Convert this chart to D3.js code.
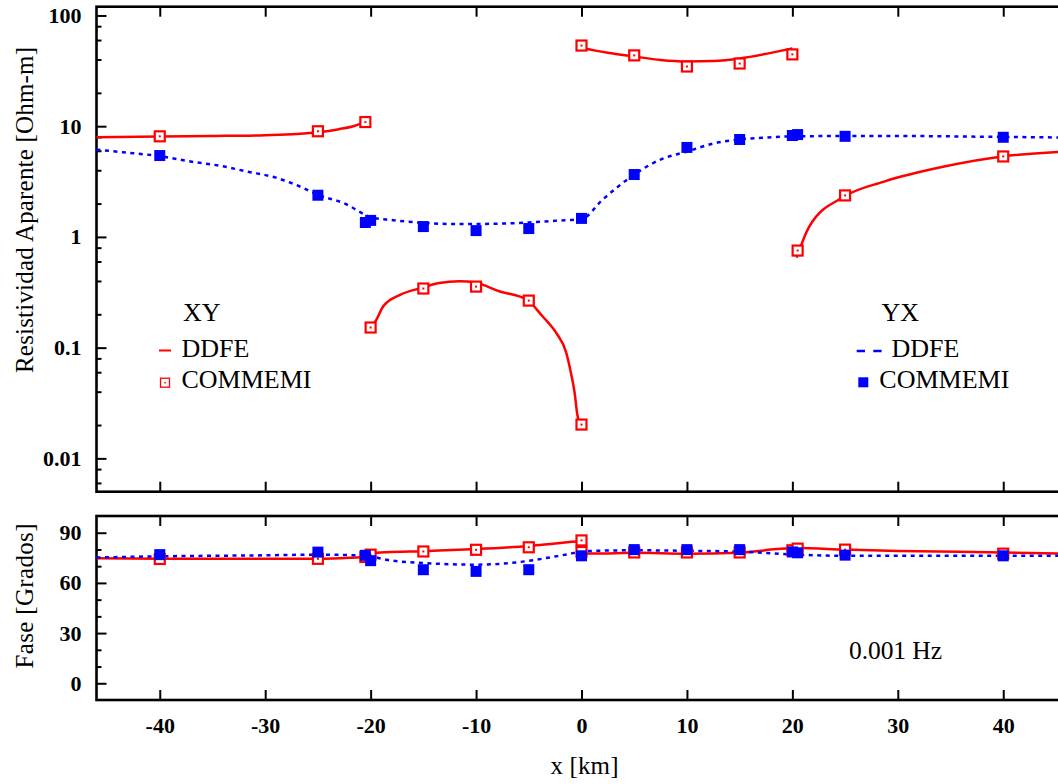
<!DOCTYPE html>
<html>
<head>
<meta charset="utf-8">
<script src="https://cdn.jsdelivr.net/npm/d3@7"></script>
<style>
body{margin:0;background:#fff;}
svg text{font-family:"Liberation Serif","Times New Roman",serif;fill:#000;}
</style>
</head>
<body>
<svg id="chart"></svg>
<script>
// tick values
let xTicks = [-40,-30,-20,-10,0,10,20,30,40];
let xTickLabels = ["-40","-30","-20","-10","0","10","20","30","40"];
let rhoTicks = [0.01,0.1,1,10,100];
let rhoTickLabels = ["0.01","0.1","1","10","100"];
let rhoMinorTicks = [0.006,0.008,0.02,0.04,0.06,0.08,0.2,0.4,0.6,0.8,2,4,6,8,20,40,60,80];
let phaseTicks = [0,30,60,90];
let phaseTickLabels = ["0","30","60","90"];
let phaseMinorTicks = [10,20,40,50,70,80];

// XY, DDFE resistivity (four pieces, [x km, ohm-m])
let xyRhoDdfeA = [[-46,7.95],[-40,8.05],[-35,8.15],[-30,8.3],[-27,8.5],[-25,8.8],[-23,9.4],[-21.5,10.1],[-20.6,10.9]];
let xyRhoDdfeB = [[-20,0.155],[-19.6,0.17],[-18.8,0.236],[-17.2,0.30],[-15.2,0.346],[-13.5,0.384],[-11.6,0.397],[-10,0.385],[-7.8,0.323],[-5.2,0.272],[-3.7,0.192],[-2.4,0.136],[-1.45,0.09],[-1.0,0.059],[-0.65,0.039],[-0.4,0.025],[-0.15,0.02]];
let xyRhoDdfeC = [[0,51],[2.5,46],[5,42.6],[7.5,39.6],[10,38.4],[12.5,38.8],[15,40.9],[17.5,45],[20,50.5]];
let xyRhoDdfeD = [[20.4,0.65],[21.6,1.24],[24.9,2.31],[28.7,3.16],[34.4,4.32],[39.9,5.32],[46,5.9]];
// YX, DDFE resistivity
let yxRhoDdfe = [[-46,6.15],[-43.5,5.82],[-40,5.36],[-37.2,4.82],[-34,4.34],[-31.8,3.91],[-28.9,3.41],[-26.4,2.77],[-25,2.4],[-22.6,2.03],[-19.8,1.49],[-18,1.42],[-15,1.34],[-12.5,1.31],[-10,1.31],[-7.5,1.32],[-5,1.35],[-2.5,1.4],[0,1.45],[2,2.17],[5,3.66],[7.5,5.0],[10,5.9],[12.5,6.97],[15,7.6],[17.5,7.9],[20,8.1],[25,8.15],[30,8.15],[40,8.0],[46,7.9]];

// COMMEMI stations
let xyStations = [-40,-25,-20.5,-20,-15,-10,-5,0,0,5,10,15,20,20.5,25,40];
let yxStations = [-40,-25,-20.5,-20,-15,-10,-5,0,5,10,15,20,20.5,25,40];
let xyRhoCommemi = [8.1,9.0,10.9,0.152,0.342,0.356,0.266,0.0202,53.5,43.6,34.6,36.8,44.5,0.753,2.37,5.33];
let yxRhoCommemi = [5.43,2.38,1.35,1.41,1.24,1.14,1.19,1.47,3.66,6.43,7.58,8.24,8.4,8.1,7.94];
let xyPhaseCommemi = [74.3,74.4,75.5,76.9,78.8,79.8,81.3,85.4,78.5,78.2,78.2,78.2,79.5,80.5,79.9,77.5];
let yxPhaseCommemi = [76.9,78.4,76.5,73.3,67.9,66.9,67.9,76.2,79.9,79.9,79.9,78.5,78,76.6,76.2];

// DDFE phase
let xyPhaseDdfe = [[-46,74.8],[-40,74.5],[-30,74.4],[-25,74.4],[-22,75],[-21,75.4],[-20,77.5],[-18.5,78.4],[-15,79],[-10,80.2],[-6.5,81.4],[-4.9,82.1],[-2.5,83.6],[-0.3,84.8],[0,84.8],[0.3,77.5],[2,77.6],[5,78],[10,77.5],[15,78],[18.5,80.2],[20.5,80.9],[25,79.9],[30,79.1],[40,78.2],[46,77.5]];
let yxPhaseDdfe = [[-46,75.2],[-40,75.9],[-30,76.5],[-25,76.9],[-21,76.4],[-20,75.9],[-18.5,73.8],[-15,71.9],[-12.5,71.2],[-10,70.9],[-7.5,71.5],[-5,73.2],[-2.5,75.8],[-0.8,77.8],[0,78.9],[5,79.5],[10,79.2],[15,78.7],[20,77],[25,76.2],[30,76.2],[40,76.2],[46,76.2]];

let width = 1058, height = 784,
    left = 96.5, right = 1066.5,
    red = "#ff0000", blue = "#0000ff",
    svg = d3.select("#chart").attr("width",width).attr("height",height);

let xScale = d3.scaleLinear([-46,46],[left,right]),
    rhoScale = d3.scaleLog([0.005,120],[491.7,6.7]),
    phaseScale = d3.scaleLinear([-10,100],[700,516]);

function styleAxis(g){
    g.attr("font-family",null).attr("font-size",null);
    g.select(".domain").remove();
    g.selectAll(".tick line").attr("stroke","#000").attr("stroke-width",2);
    g.selectAll(".tick text").attr("font-weight","bold").attr("font-size",22);
}

function drawPanel(yScale,top,bottom,majors,labels,minors){
    svg.append("g").attr("transform","translate("+left+",0)")
        .call(d3.axisLeft(yScale).tickValues(majors).tickFormat(function(d,i){return labels[i];}).tickSize(-10).tickPadding(15))
        .call(styleAxis);
    svg.append("g").attr("transform","translate("+left+",0)")
        .call(d3.axisLeft(yScale).tickValues(minors).tickFormat("").tickSize(-5))
        .call(styleAxis);
    svg.append("g").attr("transform","translate(0,"+top+")")
        .call(d3.axisTop(xScale).tickValues(xTicks).tickFormat("").tickSize(-10))
        .call(styleAxis);
    return svg.append("g").attr("transform","translate(0,"+bottom+")")
        .call(d3.axisBottom(xScale).tickValues(xTicks).tickFormat(function(d,i){return xTickLabels[i];}).tickSize(-10).tickPadding(17.7))
        .call(styleAxis);
}

// panels frames and axes
drawPanel(rhoScale,6.7,491.7,rhoTicks,rhoTickLabels,rhoMinorTicks)
    .selectAll(".tick text").remove();
drawPanel(phaseScale,516,700,phaseTicks,phaseTickLabels,phaseMinorTicks);

svg.append("rect").attr("x",left).attr("y",6.7).attr("width",right-left+20).attr("height",491.7-6.7)
    .attr("fill","none").attr("stroke","#000").attr("stroke-width",2.6);
svg.append("rect").attr("x",left).attr("y",516).attr("width",right-left+20).attr("height",700-516)
    .attr("fill","none").attr("stroke","#000").attr("stroke-width",2.6);

// lines
let rhoLine = d3.line().x(function(d){return xScale(d[0]);}).y(function(d){return rhoScale(d[1]);}).curve(d3.curveMonotoneX);
let phaseLine = d3.line().x(function(d){return xScale(d[0]);}).y(function(d){return phaseScale(d[1]);}).curve(d3.curveMonotoneX);

let g = svg.append("g");
[xyRhoDdfeA,xyRhoDdfeB,xyRhoDdfeC,xyRhoDdfeD].forEach(function(seg){
    g.append("path").attr("d",rhoLine(seg)).attr("fill","none").attr("stroke",red).attr("stroke-width",2.5);
});
g.append("path").attr("d",rhoLine(yxRhoDdfe)).attr("fill","none").attr("stroke",blue)
    .attr("stroke-width",2.5).attr("stroke-dasharray","4,4.5");
g.append("path").attr("d",phaseLine(xyPhaseDdfe)).attr("fill","none").attr("stroke",red).attr("stroke-width",2.5);
g.append("path").attr("d",phaseLine(yxPhaseDdfe)).attr("fill","none").attr("stroke",blue)
    .attr("stroke-width",2.5).attr("stroke-dasharray","4,4.5");

// markers
function openSquares(xs,vals,yScale){
    let m = g.append("g").selectAll("g").data(xs).enter().append("g")
        .attr("transform",function(d,i){return "translate("+xScale(d)+","+yScale(vals[i])+")";});
    m.append("rect").attr("x",-5).attr("y",-5).attr("width",10).attr("height",10)
        .attr("fill","#fff").attr("stroke",red).attr("stroke-width",2.2);
    m.append("rect").attr("x",-1).attr("y",-1).attr("width",2).attr("height",2).attr("fill",red);
}
function filledSquares(xs,vals,yScale){
    g.append("g").selectAll("rect").data(xs).enter().append("rect")
        .attr("x",function(d){return xScale(d)-5.5;})
        .attr("y",function(d,i){return yScale(vals[i])-5.5;})
        .attr("width",11).attr("height",11).attr("fill",blue);
}
openSquares(xyStations,xyRhoCommemi,rhoScale);
filledSquares(yxStations,yxRhoCommemi,rhoScale);
openSquares(xyStations,xyPhaseCommemi,phaseScale);
filledSquares(yxStations,yxPhaseCommemi,phaseScale);

// legends
let lg = svg.append("g").attr("font-size",26);
lg.append("text").attr("x",183).attr("y",321).text("XY");
lg.append("line").attr("x1",159).attr("x2",171).attr("y1",350.5).attr("y2",350.5).attr("stroke",red).attr("stroke-width",2);
lg.append("text").attr("x",181.5).attr("y",357).text("DDFE");
lg.append("rect").attr("x",160.5).attr("y",378.2).attr("width",9).attr("height",9)
    .attr("fill","#fff").attr("stroke",red).attr("stroke-width",1.3);
lg.append("rect").attr("x",164.3).attr("y",382).attr("width",1.5).attr("height",1.5).attr("fill",red);
lg.append("text").attr("x",181.5).attr("y",388).text("COMMEMI");

lg.append("text").attr("x",881.5).attr("y",321).text("YX");
lg.append("line").attr("x1",856.7).attr("x2",882).attr("y1",351).attr("y2",351).attr("stroke",blue)
    .attr("stroke-width",2.5).attr("stroke-dasharray","8.3,8.3");
lg.append("text").attr("x",891.5).attr("y",357.3).text("DDFE");
lg.append("rect").attr("x",858.3).attr("y",377.3).attr("width",10).attr("height",10).attr("fill",blue);
lg.append("text").attr("x",879.3).attr("y",388).text("COMMEMI");

svg.append("text").attr("x",849).attr("y",659.3).attr("font-size",25.5)
    .attr("textLength",93).text("0.001 Hz");

// axis titles
svg.append("text").attr("transform","translate(33.3,210) rotate(-90)").attr("text-anchor","middle")
    .attr("font-size",25).attr("textLength",326).text("Resistividad Aparente [Ohm-m]");
svg.append("text").attr("transform","translate(32.7,596) rotate(-90)").attr("text-anchor","middle")
    .attr("font-size",25).attr("textLength",145).text("Fase [Grados]");
svg.append("text").attr("x",550.5).attr("y",774).attr("font-size",25)
    .attr("textLength",68).text("x [km]");
</script>
</body>
</html>
